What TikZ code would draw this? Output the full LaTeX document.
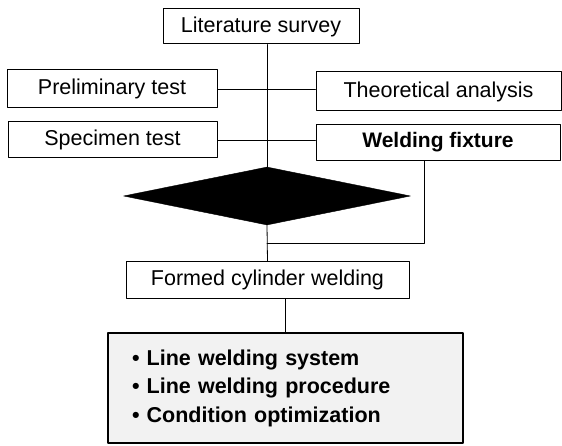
\documentclass[tikz,border=0pt]{standalone}
\usepackage{fontspec}
\setmainfont{Liberation Sans}
\usepackage{tikz}
\usetikzlibrary{positioning,calc,shapes.geometric}

\begin{document}
\begin{tikzpicture}[x=1pt,y=-1pt, font=\fontsize{21.5}{28.5}\selectfont, line cap=round, line join=round]
				\useasboundingbox (0,0) rectangle (562,446);
				
				% ===== style hộp =====
				\tikzset{box/.style={draw=black, fill=white, line width=1pt, inner sep=0pt},
					link/.style={draw=black, line width=0.8pt}}
				
				% ===== các hộp =====
				\node[box, minimum width=196, minimum height=35] (lit) at (261,26.5) {Literature survey};
				\node[box, minimum width=210, minimum height=38] (prelim) at (112,89) {Preliminary test};
				\node[box, minimum width=245, minimum height=39] (theo) at (438.5,91.5) {Theoretical analysis};
				\node[box, minimum width=209, minimum height=36] (spec) at (112.5,140) {Specimen test};
				\node[box, minimum width=244, minimum height=36, font=\fontsize{21}{28.5}\selectfont\bfseries] (fix) at (438,142.5) {Welding fixture};
				\node[draw=black, fill=black, diamond, inner sep=0pt, minimum width=287, minimum height=58] (dia) at (267,196) {};
				\node[box, minimum width=283, minimum height=36] (form) at (267.5,280) {Formed cylinder welding};
				
				% ===== hộp xám =====
				\node[draw=black, fill=gray!10, line width=2.5pt, minimum width=355, minimum height=110,
				text width=307, align=left, inner sep=0pt, font=\fontsize{21.5}{28.5}\selectfont\bfseries] (list) at (285.5,388)
				{\textbullet\ Line welding system\\ \textbullet\ Line welding procedure\\ \textbullet\ Condition optimization};
				
				% ===== đường nối =====
				\coordinate (join) at (267,243);
				\draw[link] (lit.south -| dia.north) -- (dia.north);
				\draw[link] (prelim.east) -- (prelim.east -| theo.west);
				\draw[link] (spec.east) -- (spec.east -| theo.west);
				\draw[link] ([xshift=-14pt]fix.south) |- (join);
				\draw[link] (dia.south) -- (form.north);
				\draw[link] (form.south -| list.north) -- (list.north);
			\end{tikzpicture}
\end{document}
